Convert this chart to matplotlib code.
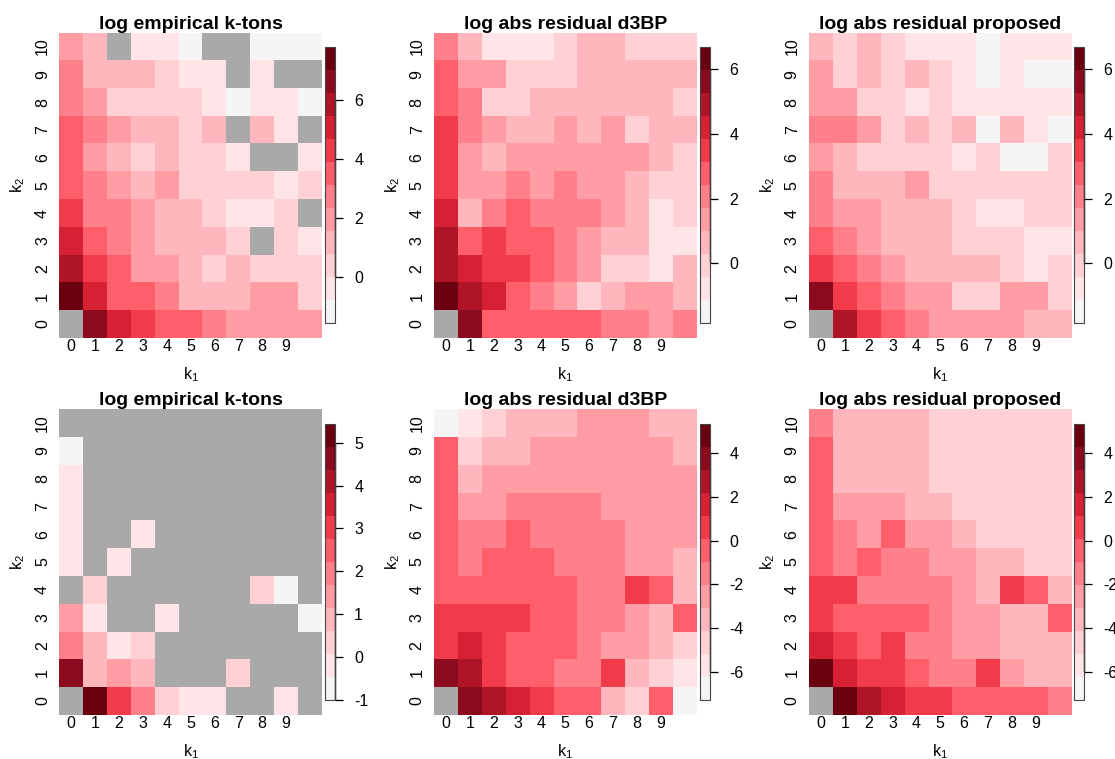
import numpy as np
import matplotlib
matplotlib.use("Agg")
import matplotlib.pyplot as plt
from matplotlib.colors import ListedColormap, Normalize
from matplotlib.ticker import MultipleLocator

plt.rcParams['font.family'] = ['Liberation Sans', 'DejaVu Sans']
plt.rcParams['axes.unicode_minus'] = False

nan = np.nan

# axis labels
k1_labels = [str(i) for i in range(10)]
k2_labels = [str(i) for i in range(11)]

# ---- data: rows run from k2 = 10 (top) down to k2 = 0, columns k1 = 0..10 ----
emp_top = [
    [1.94, 1.16, nan, -0.40, -0.40, -1.18, nan, nan, -1.18, -1.18, -1.18],
    [2.72, 1.16, 1.16, 1.16, 0.38, -0.40, -0.40, nan, -0.40, nan, nan],
    [2.72, 1.94, 0.38, 0.38, 0.38, 0.38, -0.40, -1.57, -0.40, -0.40, -1.18],
    [3.50, 2.72, 1.94, 1.16, 1.16, 0.38, 1.16, nan, 1.16, -0.40, nan],
    [3.50, 1.94, 1.16, 0.38, 1.16, 0.38, 0.38, -0.40, nan, nan, -0.40],
    [3.50, 2.72, 1.94, 1.16, 1.94, 0.38, 0.38, 0.38, 0.38, -0.40, 0.38],
    [4.28, 2.72, 2.72, 1.94, 1.16, 1.16, 0.38, -0.40, -0.40, 0.38, nan],
    [5.06, 3.50, 2.72, 1.94, 1.16, 1.16, 1.16, 0.38, nan, 0.38, -0.40],
    [5.84, 4.28, 3.50, 1.94, 1.94, 1.16, 0.38, 1.16, 0.38, 0.38, 0.38],
    [7.79, 5.06, 3.50, 3.50, 2.72, 1.16, 1.16, 1.16, 1.94, 1.94, 0.38],
    [nan, 6.62, 5.06, 4.28, 3.50, 3.50, 2.72, 1.94, 1.94, 1.94, 1.94],
]

d3bp_top = [
    [2.06, 0.64, -0.78, -0.78, -0.78, -0.07, 0.64, 0.64, -0.07, -0.07, -0.07],
    [2.77, 1.35, 1.35, -0.07, -0.07, -0.07, 0.64, 0.64, 0.64, 0.64, 0.64],
    [2.77, 2.06, -0.07, -0.07, 0.64, 0.64, 0.64, 0.64, 0.64, 0.64, -0.07],
    [3.48, 2.06, 1.35, 0.64, 0.64, 1.35, 0.64, 1.35, -0.07, 0.64, 0.64],
    [3.48, 1.35, 0.64, 1.35, 1.35, 1.35, 1.35, 1.35, 1.35, 0.64, -0.07],
    [3.48, 1.35, 1.35, 2.06, 1.35, 2.06, 1.35, 1.35, 0.64, -0.07, -0.07],
    [4.20, 0.64, 2.06, 2.77, 2.06, 2.06, 2.06, 1.35, 0.64, -0.78, -0.07],
    [4.91, 2.77, 3.48, 2.77, 2.77, 2.06, 1.35, 0.64, 0.64, -0.78, -0.78],
    [4.91, 4.20, 3.48, 3.48, 2.77, 2.06, 1.35, -0.07, -0.07, -0.78, 0.64],
    [6.68, 4.91, 4.20, 2.77, 2.06, 1.35, -0.07, 0.64, 1.35, 1.35, 0.64],
    [nan, 5.62, 2.77, 2.77, 2.77, 2.77, 2.77, 2.06, 2.06, 1.35, 2.06],
]

prop_top = [
    [0.64, -0.07, 0.64, -0.07, -0.78, -0.78, -0.78, -1.49, -0.78, -0.78, -0.78],
    [1.35, -0.07, 0.64, -0.07, 0.64, -0.07, -0.78, -1.85, -0.78, -1.49, -1.49],
    [1.35, 1.35, -0.07, -0.07, -0.78, -0.07, -0.78, -0.78, -0.78, -0.78, -0.78],
    [2.06, 2.06, 1.35, -0.07, 0.64, -0.07, 0.64, -1.49, 0.64, -0.78, -1.49],
    [1.35, 0.64, -0.07, -0.07, -0.07, -0.07, -0.78, -0.07, -1.49, -1.49, -0.07],
    [2.06, 0.64, 0.64, 0.64, 1.35, -0.07, -0.07, -0.07, -0.07, -0.07, -0.07],
    [2.06, 1.35, 1.35, 0.64, 0.64, 0.64, -0.07, -0.78, -0.78, -0.07, -0.07],
    [2.77, 2.06, 1.35, 0.64, 0.64, 0.64, -0.07, -0.07, -0.07, -0.78, -0.78],
    [3.48, 2.77, 2.06, 1.35, 0.64, 0.64, 0.64, 0.64, -0.07, -0.78, -0.07],
    [5.62, 3.48, 2.77, 2.06, 1.35, 1.35, -0.07, -0.07, 1.35, 1.35, -0.07],
    [nan, 4.91, 3.48, 2.77, 2.06, 1.35, 1.35, 1.35, 1.35, 0.64, 0.64],
]

emp_bottom = [
    [nan, nan, nan, nan, nan, nan, nan, nan, nan, nan, nan],
    [-1.00, nan, nan, nan, nan, nan, nan, nan, nan, nan, nan],
    [-0.20, nan, nan, nan, nan, nan, nan, nan, nan, nan, nan],
    [-0.20, nan, nan, nan, nan, nan, nan, nan, nan, nan, nan],
    [-0.20, nan, nan, -0.20, nan, nan, nan, nan, nan, nan, nan],
    [-0.20, nan, -0.20, nan, nan, nan, nan, nan, nan, nan, nan],
    [nan, 0.34, nan, nan, nan, nan, nan, nan, 0.34, -0.73, nan],
    [1.41, -0.20, nan, nan, -0.20, nan, nan, nan, nan, nan, -0.73],
    [1.95, 0.88, -0.20, 0.34, nan, nan, nan, nan, nan, nan, nan],
    [4.63, 0.88, 1.41, 0.88, nan, nan, nan, 0.34, nan, nan, nan],
    [nan, 5.43, 3.02, 1.95, 0.34, -0.20, -0.20, nan, nan, -0.20, nan],
]

d3bp_bottom = [
    [-7.30, -5.72, -4.67, -3.61, -3.61, -3.61, -2.56, -2.56, -2.56, -3.61, -3.61],
    [-0.46, -4.67, -3.61, -3.61, -2.56, -2.56, -2.56, -2.56, -2.56, -2.56, -3.61],
    [-0.46, -3.61, -2.56, -2.56, -2.56, -2.56, -2.56, -2.56, -2.56, -2.56, -2.56],
    [-0.46, -2.56, -2.56, -1.51, -1.51, -1.51, -1.51, -2.56, -2.56, -2.56, -2.56],
    [-0.46, -1.51, -1.51, -0.46, -1.51, -1.51, -1.51, -1.51, -2.56, -2.56, -2.56],
    [-0.46, -1.51, -0.46, -0.46, -0.46, -1.51, -1.51, -1.51, -2.56, -2.56, -3.61],
    [-0.46, -0.46, -0.46, -0.46, -0.46, -0.46, -1.51, -1.51, 0.60, -0.46, -3.61],
    [0.60, 0.60, 0.60, 0.60, -0.46, -0.46, -1.51, -1.51, -2.56, -3.61, -0.46],
    [0.60, 1.65, 0.60, -0.46, -0.46, -0.46, -1.51, -2.56, -2.56, -3.61, -4.67],
    [3.76, 2.70, 0.60, -0.46, -0.46, -1.51, -1.51, 0.60, -3.61, -4.67, -5.72],
    [nan, 3.76, 2.70, 1.65, 0.60, -0.46, -0.46, -3.61, -4.67, -0.46, -6.77],
]

prop_bottom = [
    [-1.51, -3.61, -3.61, -3.61, -3.61, -4.67, -4.67, -4.67, -4.67, -4.67, -4.67],
    [-0.46, -3.61, -3.61, -3.61, -3.61, -4.67, -4.67, -4.67, -4.67, -4.67, -4.67],
    [-0.46, -3.61, -3.61, -3.61, -3.61, -4.67, -4.67, -4.67, -4.67, -4.67, -4.67],
    [-0.46, -2.56, -2.56, -2.56, -3.61, -3.61, -4.67, -4.67, -4.67, -4.67, -4.67],
    [-0.46, -1.51, -2.56, -0.46, -2.56, -2.56, -3.61, -4.67, -4.67, -4.67, -4.67],
    [-0.46, -1.51, -0.46, -1.51, -1.51, -2.56, -2.56, -3.61, -3.61, -4.67, -4.67],
    [0.60, 0.60, -1.51, -1.51, -1.51, -1.51, -2.56, -3.61, 0.60, -0.46, -3.61],
    [0.60, -0.46, -0.46, -0.46, -0.46, -1.51, -2.56, -2.56, -3.61, -3.61, -0.46],
    [1.65, 0.60, -0.46, 0.60, -1.51, -1.51, -2.56, -2.56, -3.61, -3.61, -3.61],
    [5.33, 1.65, 0.60, 0.60, -0.46, -1.51, -1.51, 0.60, -2.56, -3.61, -3.61],
    [nan, 4.81, 2.70, 1.65, 0.60, 0.60, -0.46, -0.46, -0.46, -0.46, -1.51],
]

titles = ["log empirical k-tons", "log abs residual d3BP", "log abs residual proposed"]

# 12-step white -> red -> dark red scale, grey for missing cells
palette = ["#F5F5F5", "#FFE5E7", "#FFD0D4", "#FFB7BD", "#FF9CA4", "#FF808A",
           "#FF5E6B", "#F13A4A", "#D62134", "#B01527", "#8C0A1E", "#6B0010"]
na_color = "#A9A9A9"

W, H = 1115, 759
fig = plt.figure(figsize=(W / 100, H / 100), dpi=100)
fig.patch.set_facecolor("white")

map_lefts = [59.3, 434.0, 809.0]
map_w = 262.4
row_tops = [32.7, 409.3]
map_h = 305.2
bar_lefts = [324.7, 699.7, 1074.3]
bar_w = 10.0
bar_tops = [47.3, 424.3]
bar_h = 275.7

cmap = ListedColormap(palette)
cmap.set_bad(na_color)


def zrange(*grids):
    a = np.concatenate([np.asarray(g, float).ravel() for g in grids])
    return np.nanmin(a), np.nanmax(a)


def draw_panel(col, row, grid, zlim, title, tick_step):
    left, top = map_lefts[col], row_tops[row]
    ax = fig.add_axes([left / W, 1 - (top + map_h) / H, map_w / W, map_h / H])
    z = np.ma.masked_invalid(np.asarray(grid, float)[::-1])
    norm = Normalize(vmin=zlim[0], vmax=zlim[1])
    im = ax.imshow(z, cmap=cmap, norm=norm, origin="lower", aspect="auto",
                   interpolation="nearest", extent=(-0.5, 10.5, -0.5, 10.5))
    ax.set_xlim(-0.5, 10.5)
    ax.set_ylim(-0.5, 10.5)
    for s in ax.spines.values():
        s.set_visible(False)
    ax.set_xticks(range(len(k1_labels)))
    ax.set_xticklabels(k1_labels)
    ax.set_yticks(range(len(k2_labels)))
    ax.set_yticklabels(k2_labels, rotation=90, va="center")
    ax.tick_params(axis="both", length=0, labelsize=11.5)
    ax.tick_params(axis="x", pad=1.0)
    ax.tick_params(axis="y", pad=6.7)
    ax.set_title(title, fontsize=14, fontweight="bold", pad=2.5)
    ax.set_xlabel(r"$\mathregular{k_1}$", fontsize=11.5, va="center")
    ax.xaxis.set_label_coords(0.5, -0.122)
    ax.set_ylabel(r"$\mathregular{k_2}$", fontsize=11.5, va="center")
    ax.yaxis.set_label_coords(-0.157, 0.5)

    btop = bar_tops[row]
    cax = fig.add_axes([bar_lefts[col] / W, 1 - (btop + bar_h) / H, bar_w / W, bar_h / H])
    cb = fig.colorbar(im, cax=cax, ticks=MultipleLocator(tick_step))
    cb.outline.set_edgecolor("#444444")
    cb.outline.set_linewidth(0.8)
    cax.tick_params(axis="y", length=6, width=0.9, color="black", pad=8.0,
                    labelsize=11.5, direction="out")
    ticks = [t for t in cb.get_ticks() if zlim[0] <= t <= zlim[1]]
    cax.plot([1, 1], [ticks[0], ticks[-1]], color="black", lw=1.0,
             clip_on=False, solid_capstyle="butt")
    return ax


z_emp_top = zrange(emp_top)
z_res_top = zrange(d3bp_top, prop_top)
z_emp_bot = zrange(emp_bottom)
z_res_bot = zrange(d3bp_bottom, prop_bottom)

draw_panel(0, 0, emp_top, z_emp_top, titles[0], 2)
draw_panel(1, 0, d3bp_top, z_res_top, titles[1], 2)
draw_panel(2, 0, prop_top, z_res_top, titles[2], 2)
draw_panel(0, 1, emp_bottom, z_emp_bot, titles[0], 1)
draw_panel(1, 1, d3bp_bottom, z_res_bot, titles[1], 2)
draw_panel(2, 1, prop_bottom, z_res_bot, titles[2], 2)

fig.savefig("out.png", dpi=100)
